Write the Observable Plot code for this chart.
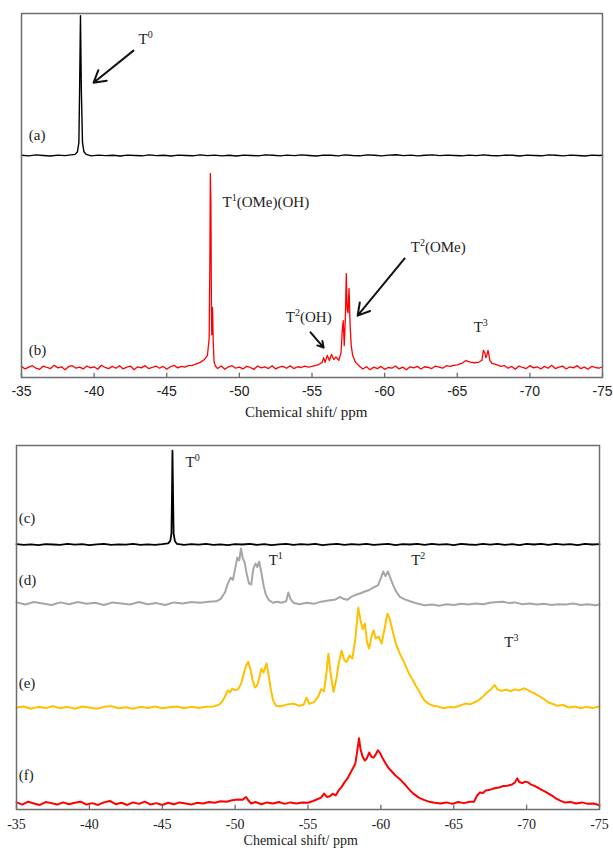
<!DOCTYPE html>
<html>
<head>
<meta charset="utf-8">
<script src="https://cdn.jsdelivr.net/npm/d3@7"></script>
<script src="https://cdn.jsdelivr.net/npm/@observablehq/plot@0.6"></script>
<style>
  html, body { margin: 0; padding: 0; background: #fff; }
  #chart svg { display: block; overflow: visible; }
</style>
</head>
<body>
<div id="chart"></div>
<script>
// ---------- data (ppm, relative intensity above each trace's baseline) ----------
const xTicks = [-35, -40, -45, -50, -55, -60, -65, -70, -75];
const xLabel = "Chemical shift/ ppm";

const seriesA = [[-35,0.05],[-35.5,-0.1],[-36,0.15],[-36.5,0],[-37,-0.15],[-37.5,0.1],[-38,-0.05],[-38.4,0.15],[-38.7,0.3],[-38.85,1.0],[-38.95,3.5],[-39.0,18],[-39.06,38.4],[-39.12,18],[-39.2,3.5],[-39.3,1.0],[-39.45,0.3],[-39.8,-0.1],[-40.3,0.1],[-40.8,-0.05],[-41.3,0.05],[-41.8,-0.15],[-42.3,0.1],[-42.8,0],[-43.3,-0.1],[-43.8,0.15],[-44.3,-0.05],[-44.8,0.05],[-45.3,-0.15],[-45.8,0.1],[-46.3,0],[-46.8,-0.1],[-47.3,0.15],[-47.8,-0.05],[-48.3,0.1],[-48.8,-0.1],[-49.3,0.05],[-49.8,-0.15],[-50.3,0.1],[-50.8,0],[-51.3,-0.1],[-51.8,0.15],[-52.3,0.05],[-52.8,-0.1],[-53.3,0.1],[-53.8,-0.05],[-54.3,0.15],[-54.8,0],[-55.3,-0.15],[-55.8,0.1],[-56.3,0.05],[-56.8,-0.1],[-57.3,0.15],[-57.8,0],[-58.3,-0.1],[-58.8,0.15],[-59.3,0.05],[-59.8,-0.1],[-60.3,0.1],[-60.8,0.2],[-61.3,-0.05],[-61.8,0.1],[-62.3,-0.1],[-62.8,0.05],[-63.3,0.15],[-63.8,-0.05],[-64.3,0.1],[-64.8,0],[-65.3,-0.1],[-65.8,0.1],[-66.3,-0.05],[-66.8,0.15],[-67.3,0],[-67.8,-0.1],[-68.3,0.1],[-68.8,0.05],[-69.3,-0.15],[-69.8,0.1],[-70.3,0],[-70.8,-0.1],[-71.3,0.15],[-71.8,0.05],[-72.3,-0.1],[-72.8,0.1],[-73.3,0],[-73.8,-0.15],[-74.3,0.1],[-74.8,0],[-75,0.05]];

const seriesB = [[-35,0.3],[-35.25,-0.4],[-35.5,0.1],[-35.75,0.5],[-36,-0.2],[-36.25,-0.5],[-36.5,0.4],[-36.75,0],[-37,-0.3],[-37.25,0.6],[-37.5,-0.1],[-37.75,0.2],[-38,-0.6],[-38.25,0.3],[-38.5,0.5],[-38.75,-0.2],[-39,0.1],[-39.25,-0.4],[-39.5,0.4],[-39.75,-0.1],[-40,0.2],[-40.25,-0.5],[-40.5,0.6],[-40.75,0],[-41,-0.3],[-41.25,0.3],[-41.5,-0.2],[-41.75,0.5],[-42,-0.4],[-42.25,0.1],[-42.5,0.4],[-42.75,-0.6],[-43,0.2],[-43.25,-0.1],[-43.5,0.5],[-43.75,-0.3],[-44,0],[-44.25,0.4],[-44.5,-0.2],[-44.75,0.3],[-45,-0.5],[-45.25,0.2],[-45.5,0.6],[-45.75,-0.1],[-46,0.3],[-46.25,0.1],[-46.5,0.5],[-46.75,0.6],[-47,0.9],[-47.3,1.4],[-47.6,2.2],[-47.8,3.3],[-47.92,8],[-47.97,30],[-48.0,53.3],[-48.04,45],[-48.08,14],[-48.1,9],[-48.15,16.5],[-48.2,7],[-48.26,1.5],[-48.35,0.4],[-48.5,-0.3],[-48.75,0.4],[-49,-0.5],[-49.25,0.2],[-49.5,0.5],[-49.75,-0.2],[-50,0.1],[-50.25,-0.4],[-50.5,0.3],[-50.75,0],[-51,-0.5],[-51.25,0.4],[-51.5,-0.1],[-51.75,0.2],[-52,-0.3],[-52.25,0.5],[-52.5,-0.4],[-52.75,0.1],[-53,0.3],[-53.25,-0.2],[-53.5,0.5],[-53.75,-0.3],[-54,0.2],[-54.25,0],[-54.5,0.4],[-54.75,0.1],[-55,0.3],[-55.4,0.7],[-55.7,1.4],[-55.8,2.7],[-55.9,1.4],[-56.05,3.3],[-56.2,1.9],[-56.35,3.6],[-56.5,2.2],[-56.65,2.9],[-56.85,2.0],[-57.0,4],[-57.08,10],[-57.15,12.9],[-57.22,6],[-57.3,14],[-57.36,25.8],[-57.42,16],[-57.48,15],[-57.55,21.7],[-57.62,12],[-57.7,6],[-57.8,3.3],[-58.0,1.4],[-58.3,0.3],[-58.5,-0.4],[-58.75,0.2],[-59,-0.6],[-59.25,0.1],[-59.5,-0.3],[-59.75,0.3],[-60,-0.5],[-60.25,0],[-60.5,-0.2],[-60.75,0.4],[-61,-0.4],[-61.25,0.1],[-61.5,-0.6],[-61.75,0.2],[-62,-0.1],[-62.25,0.3],[-62.5,-0.4],[-62.75,0.2],[-63,0],[-63.25,-0.3],[-63.5,0.4],[-63.75,0.1],[-64,-0.2],[-64.25,0.5],[-64.5,0.3],[-64.75,0.6],[-65,0.7],[-65.3,1.1],[-65.6,1.9],[-65.9,1.5],[-66.2,1.3],[-66.5,1.5],[-66.7,2.0],[-66.8,4.7],[-66.9,4.0],[-66.97,2.7],[-67.05,3.5],[-67.12,4.7],[-67.25,1.9],[-67.4,1.1],[-67.7,0.8],[-68,0.3],[-68.25,0.5],[-68.5,-0.2],[-68.75,0.3],[-69,-0.5],[-69.25,0.4],[-69.5,0],[-69.75,-0.3],[-70,0.5],[-70.25,-0.1],[-70.5,0.2],[-70.75,-0.4],[-71,0.3],[-71.25,-0.2],[-71.5,0.6],[-71.75,-0.3],[-72,0.1],[-72.25,0.4],[-72.5,-0.4],[-72.75,0.2],[-73,-0.1],[-73.25,0.5],[-73.5,-0.3],[-73.75,0.1],[-74,-0.5],[-74.25,0.3],[-74.5,0],[-74.75,-0.2],[-75,0.2]];

const seriesC = [[-35,0.1],[-35.5,-0.1],[-36,0.05],[-36.5,-0.15],[-37,0.1],[-37.5,0],[-38,-0.1],[-38.5,0.15],[-39,-0.05],[-39.5,0.1],[-40,-0.15],[-40.5,0.05],[-41,0.15],[-41.5,-0.1],[-42,0.05],[-42.5,-0.05],[-43,0.15],[-43.5,-0.1],[-44,0.05],[-44.5,-0.1],[-45,0.1],[-45.4,0.3],[-45.55,1.0],[-45.63,3],[-45.67,14],[-45.7,25.8],[-45.74,14],[-45.78,3],[-45.87,0.9],[-46.0,0.2],[-46.5,-0.1],[-47,0.1],[-47.5,-0.05],[-48,0.15],[-48.5,-0.1],[-49,0.05],[-49.5,-0.15],[-50,0.1],[-50.5,0],[-51,0.15],[-51.5,-0.1],[-52,0.1],[-52.5,-0.15],[-53,0.05],[-53.5,0.15],[-54,-0.1],[-54.5,0.1],[-55,-0.05],[-55.5,0.15],[-56,-0.15],[-56.5,0.05],[-57,0.15],[-57.5,-0.1],[-58,0.1],[-58.5,-0.05],[-59,0.2],[-59.5,-0.1],[-60,0.05],[-60.5,0.15],[-61,-0.15],[-61.5,0.1],[-62,0],[-62.5,0.15],[-63,-0.1],[-63.5,0.2],[-64,-0.05],[-64.5,0.1],[-65,-0.15],[-65.5,0.15],[-66,0],[-66.5,-0.1],[-67,0.15],[-67.5,-0.05],[-68,0.2],[-68.5,-0.1],[-69,0.1],[-69.5,-0.15],[-70,0.15],[-70.5,0],[-71,0.2],[-71.5,-0.1],[-72,0.15],[-72.5,-0.05],[-73,0.1],[-73.5,-0.15],[-74,0.15],[-74.5,0],[-75,0.1]];

const seriesD = [[-35,0.3],[-35.6,-0.3],[-36.2,0.4],[-36.8,0],[-37.4,-0.4],[-38,0.3],[-38.6,-0.2],[-39.2,0.4],[-39.8,-0.1],[-40.4,0.2],[-41,-0.4],[-41.6,0.3],[-42.2,0],[-42.8,-0.3],[-43.4,0.4],[-44,-0.2],[-44.6,0.1],[-45.2,-0.4],[-45.8,0.3],[-46.4,0],[-47,0.4],[-47.6,0.2],[-48.2,0.5],[-48.7,0.6],[-49.0,1.2],[-49.3,3.0],[-49.5,5.5],[-49.7,7.1],[-49.85,6.5],[-50.0,9.5],[-50.15,12.6],[-50.28,11.8],[-50.4,15.1],[-50.52,12.5],[-50.65,11.3],[-50.8,8.0],[-50.95,5.5],[-51.1,5.2],[-51.25,9.5],[-51.4,11.0],[-51.52,10.0],[-51.65,11.5],[-51.8,8.5],[-51.95,5.0],[-52.1,2.5],[-52.3,1.0],[-52.6,0.2],[-52.9,0.5],[-53.2,0.2],[-53.5,0.6],[-53.65,3.0],[-53.8,1.2],[-54.0,0.2],[-54.4,-0.2],[-54.9,0.2],[-55.4,-0.1],[-55.9,0.5],[-56.4,0.8],[-56.9,1.1],[-57.2,1.8],[-57.4,1.3],[-57.7,1.0],[-58.0,1.9],[-58.3,2.4],[-58.6,2.8],[-58.9,3.3],[-59.2,3.7],[-59.5,4.4],[-59.8,5.0],[-60.0,6.9],[-60.15,8.8],[-60.32,7.5],[-60.48,8.8],[-60.65,7.0],[-60.85,5.0],[-61.0,3.6],[-61.3,1.8],[-61.6,1.2],[-62.0,0.6],[-62.5,0],[-63.0,-0.5],[-63.5,-0.3],[-64,-0.6],[-64.5,-0.2],[-65,-0.4],[-65.5,-0.1],[-66,-0.3],[-66.5,0],[-67,-0.2],[-67.5,0.2],[-68,0.4],[-68.4,0.5],[-68.8,0.1],[-69.2,0.3],[-69.7,-0.2],[-70.2,0],[-70.7,-0.3],[-71.2,-0.1],[-71.7,-0.4],[-72.2,-0.2],[-72.7,-0.3],[-73.2,0],[-73.7,-0.4],[-74.2,-0.2],[-74.7,-0.5],[-75,-0.3]];

const seriesE = [[-35,0],[-35.5,0.3],[-36,-0.3],[-36.5,0.2],[-37,-0.1],[-37.5,0.4],[-38,-0.2],[-38.5,0.2],[-39,-0.3],[-39.5,0.3],[-40,0],[-40.5,-0.3],[-41,0.2],[-41.5,0.4],[-42,-0.2],[-42.5,0.1],[-43,-0.3],[-43.5,0.2],[-44,-0.1],[-44.5,0.3],[-45,-0.2],[-45.5,0.1],[-46,0.3],[-46.5,-0.2],[-47,0.2],[-47.5,-0.1],[-48,0.2],[-48.5,0.3],[-48.9,0.8],[-49.1,1.6],[-49.3,3.0],[-49.5,4.7],[-49.65,4.2],[-49.8,5.2],[-50.0,4.8],[-50.2,5.0],[-50.4,6.5],[-50.6,9.5],[-50.75,11.5],[-50.9,12.6],[-51.05,10.5],[-51.2,7.5],[-51.35,5.5],[-51.5,6.0],[-51.65,8.0],[-51.8,10.7],[-51.95,9.6],[-52.15,12.1],[-52.3,9.0],[-52.45,5.0],[-52.6,2.0],[-52.8,0.5],[-53.1,0.3],[-53.5,0.8],[-54.0,1.1],[-54.4,0.5],[-54.7,0.8],[-54.9,2.7],[-55.1,1.0],[-55.4,1.5],[-55.7,3.0],[-55.9,5.0],[-56.1,4.5],[-56.25,9.0],[-56.4,14.8],[-56.55,9.5],[-56.75,4.3],[-56.95,8.0],[-57.1,12.0],[-57.3,15.7],[-57.5,13.0],[-57.65,12.5],[-57.85,14.3],[-58.05,13.5],[-58.25,19.0],[-58.45,27.5],[-58.6,24.0],[-58.75,21.5],[-58.9,23.1],[-59.05,18.0],[-59.2,16.2],[-59.35,19.5],[-59.5,21.2],[-59.65,19.0],[-59.85,19.5],[-60.05,17.6],[-60.25,21.5],[-60.45,25.8],[-60.6,24.5],[-60.8,21.2],[-61.0,18.0],[-61.2,15.7],[-61.4,14.0],[-61.6,12.4],[-61.8,10.5],[-62.0,8.8],[-62.2,7.5],[-62.4,6.0],[-62.6,4.7],[-62.8,3.2],[-63.0,1.9],[-63.3,1.0],[-63.6,0.5],[-64.0,0.2],[-64.3,-0.2],[-64.7,0.2],[-65.0,0],[-65.4,0.5],[-65.8,1.1],[-66.1,0.9],[-66.4,1.4],[-66.7,2.0],[-67.0,3.0],[-67.3,4.2],[-67.6,5.2],[-67.8,6.2],[-68.0,5.0],[-68.3,4.6],[-68.6,4.9],[-68.9,4.5],[-69.2,5.0],[-69.5,4.7],[-69.8,5.3],[-70.0,5.0],[-70.3,4.3],[-70.6,3.8],[-70.9,3.0],[-71.2,2.3],[-71.5,1.4],[-71.8,1.0],[-72.1,0.5],[-72.5,0.7],[-72.9,0],[-73.3,0.3],[-73.7,-0.2],[-74.1,0.2],[-74.5,-0.1],[-75,0.3]];

const seriesF = [[-35,0.3],[-35.4,-0.3],[-35.8,0.5],[-36.2,0],[-36.6,-0.4],[-37,0.4],[-37.4,0.1],[-37.8,-0.3],[-38.2,0.3],[-38.6,-0.2],[-39,0.2],[-39.4,0.5],[-39.8,-0.3],[-40.2,0.1],[-40.6,-0.4],[-41,0.3],[-41.4,0.7],[-41.8,-0.2],[-42.2,0.2],[-42.6,-0.4],[-43,0.3],[-43.4,-0.1],[-43.8,0.5],[-44.2,-0.3],[-44.6,0.1],[-45,-0.4],[-45.4,0.2],[-45.8,-0.2],[-46.2,0.3],[-46.6,0],[-47,-0.3],[-47.4,0.2],[-47.8,0],[-48.2,0.4],[-48.6,0.2],[-49,0.6],[-49.4,0.5],[-49.8,0.9],[-50.2,1.1],[-50.5,1.0],[-50.75,1.8],[-50.9,0.9],[-51.1,0],[-51.4,0.4],[-51.8,-0.2],[-52.2,0.3],[-52.6,0],[-53,0.4],[-53.4,-0.1],[-53.8,0.3],[-54.2,0],[-54.6,0.3],[-55,0.2],[-55.3,0.6],[-55.6,1.1],[-55.9,1.6],[-56.1,2.7],[-56.3,1.8],[-56.5,2.0],[-56.7,2.7],[-56.9,2.2],[-57.1,3.6],[-57.3,4.5],[-57.5,5.8],[-57.7,6.8],[-57.9,8.3],[-58.1,9.8],[-58.25,11.0],[-58.4,15.0],[-58.5,17.9],[-58.6,15.0],[-58.75,12.8],[-58.9,11.8],[-59.05,12.5],[-59.2,14.0],[-59.35,12.8],[-59.5,12.6],[-59.65,13.5],[-59.8,14.6],[-59.95,13.8],[-60.1,12.6],[-60.3,11.2],[-60.5,9.9],[-60.75,8.8],[-61.0,7.7],[-61.2,7.0],[-61.4,6.3],[-61.7,5.0],[-62.0,3.6],[-62.3,2.5],[-62.6,1.6],[-62.95,1.0],[-63.3,0.5],[-63.7,0.2],[-64.1,0],[-64.5,0.3],[-64.9,-0.1],[-65.3,0.4],[-65.7,0.1],[-66.1,0.5],[-66.4,0.5],[-66.6,2.2],[-66.8,3.0],[-67.0,2.9],[-67.2,3.6],[-67.5,3.8],[-67.8,4.2],[-68.1,4.4],[-68.4,4.8],[-68.7,4.9],[-69.0,5.2],[-69.2,5.8],[-69.35,6.9],[-69.5,5.9],[-69.7,5.6],[-69.9,6.0],[-70.1,5.8],[-70.3,5.2],[-70.5,4.9],[-70.8,4.3],[-71.0,3.8],[-71.3,3.2],[-71.5,2.7],[-71.8,2.0],[-72.0,1.4],[-72.3,0.8],[-72.6,0.3],[-73,0.4],[-73.4,0],[-73.8,0.3],[-74.2,-0.1],[-74.6,0],[-75,-0.5]];

// trace names and their annotations
const traceNamesTop = ["(a)", "(b)"];
const traceNamesBottom = ["(c)", "(d)", "(e)", "(f)"];
const peakLabelsTop = ["T^0", "T^1(OMe)(OH)", "T^2(OH)", "T^2(OMe)", "T^3"];
const peakLabelsBottom = ["T^0", "T^1", "T^2", "T^3"];

// ---------- layout / style (kept apart from data) ----------
const W = 613;
const serif = "'Liberation Serif', 'Times New Roman', serif";
const sans = "'Liberation Sans', Arial, sans-serif";

const traceStyleTop = [
  {data: seriesA, offset: 61.0, stroke: "#000000", width: 1.4},
  {data: seriesB, offset: 2.75, stroke: "#FF0000", width: 1.3}
];
const traceStyleBottom = [
  {data: seriesC, offset: 72.8, stroke: "#000000", width: 1.8},
  {data: seriesD, offset: 56.6, stroke: "#A6A6A6", width: 2},
  {data: seriesE, offset: 28.0, stroke: "#FFC000", width: 2},
  {data: seriesF, offset: 1.65, stroke: "#FF0000", width: 2}
];

const namePosTop = [{x: -35.5, y: 66.5}, {x: -35.5, y: 7.4}];
const namePosBottom = [{x: -35.15, y: 79.9}, {x: -35.15, y: 62.9}, {x: -35.15, y: 34.6}, {x: -35.15, y: 9.3}];
const peakPosTop = [{x: -43.06, y: 92.9}, {x: -48.84, y: 48.1}, {x: -53.2, y: 16.5}, {x: -61.8, y: 35.7}, {x: -66.13, y: 13.7}];
const peakPosBottom = [{x: -46.6, y: 95.3}, {x: -52.3, y: 68.4}, {x: -62.08, y: 68.4}, {x: -68.47, y: 45.9}];
const arrowsTop = [
  {x1: -42.71, y1: 89.8, x2: -39.96, y2: 81.0},
  {x1: -54.9, y1: 12.4, x2: -55.8, y2: 8.2},
  {x1: -61.38, y1: 32.7, x2: -58.14, y2: 17.0}
];

function supify(svg) {
  const ns = "http://www.w3.org/2000/svg";
  svg.querySelectorAll("text").forEach(t => {
    const s = t.textContent;
    const i = s.indexOf("^");
    if (i < 0) return;
    const base = s.slice(0, i), sup = s[i + 1], rest = s.slice(i + 2);
    while (t.firstChild) t.removeChild(t.firstChild);
    const a = document.createElementNS(ns, "tspan"); a.textContent = base; t.appendChild(a);
    const b = document.createElementNS(ns, "tspan"); b.textContent = sup;
    b.setAttribute("font-size", "10"); b.setAttribute("dy", "-6"); t.appendChild(b);
    if (rest) {
      const c = document.createElementNS(ns, "tspan"); c.textContent = rest;
      c.setAttribute("dy", "6"); t.appendChild(c);
    }
  });
}

function panel({height, marginTop, marginBottom, marginLeft, marginRight, traces, names, namePos, peaks, peakPos, arrows, tickFont, tickSizePx, tickDy, labelDy, labelX, labelSize}) {
  const marks = [];
  traces.forEach(tr => {
    marks.push(Plot.line(tr.data, {x: d => d[0], y: d => d[1] + tr.offset, stroke: tr.stroke, strokeWidth: tr.width, curve: "linear"}));
  });
  marks.push(Plot.frame({stroke: "#6e6e6e", strokeWidth: 1.5}));
  marks.push(Plot.ruleX(xTicks, {x: d => d, y1: 0, y2: 1.2, stroke: "#6e6e6e", strokeWidth: 1.3}));
  marks.push(Plot.text(xTicks, {x: d => d, frameAnchor: "bottom", dy: tickDy, text: d => String(d), fontFamily: tickFont, fontSize: tickSizePx, fill: "#222"}));
  marks.push(Plot.text([xLabel], {x: labelX, frameAnchor: "bottom", dy: labelDy, text: d => d, fontFamily: serif, fontSize: labelSize, fill: "#222"}));
  marks.push(Plot.text(names.map((n, i) => ({t: n, ...namePos[i]})), {x: "x", y: "y", text: "t", textAnchor: "start", fontFamily: serif, fontSize: 15, fill: "#222"}));
  marks.push(Plot.text(peaks.map((n, i) => ({t: n, ...peakPos[i]})), {x: "x", y: "y", text: "t", textAnchor: "start", fontFamily: serif, fontSize: 15, fill: "#222"}));
  if (arrows) marks.push(Plot.arrow(arrows, {x1: "x1", y1: "y1", x2: "x2", y2: "y2", stroke: "#111", strokeWidth: 2, headLength: 10}));
  const svg = Plot.plot({
    width: W, height, marginTop, marginBottom, marginLeft, marginRight,
    x: {domain: [-35, -75], axis: null, inset: 0},
    y: {domain: [0, 100], axis: null, inset: 0},
    style: {background: "#fff", fontFamily: serif, overflow: "visible"},
    marks
  });
  supify(svg);
  return svg;
}

const topPanel = panel({
  height: 425, marginTop: 13, marginBottom: 48, marginLeft: 21, marginRight: 11,
  traces: traceStyleTop, names: traceNamesTop, namePos: namePosTop,
  peaks: peakLabelsTop, peakPos: peakPosTop, arrows: arrowsTop,
  tickFont: sans, tickSizePx: 14, tickDy: 18, labelDy: 39, labelX: -54.6, labelSize: 15
});
const bottomPanel = panel({
  height: 427, marginTop: 20, marginBottom: 43, marginLeft: 16, marginRight: 14,
  traces: traceStyleBottom, names: traceNamesBottom, namePos: namePosBottom,
  peaks: peakLabelsBottom, peakPos: peakPosBottom, arrows: null,
  tickFont: serif, tickSizePx: 14, tickDy: 19, labelDy: 35, labelX: -54.5, labelSize: 14
});
const host = document.getElementById("chart");
host.appendChild(topPanel);
host.appendChild(bottomPanel);
</script>
</body>
</html>
